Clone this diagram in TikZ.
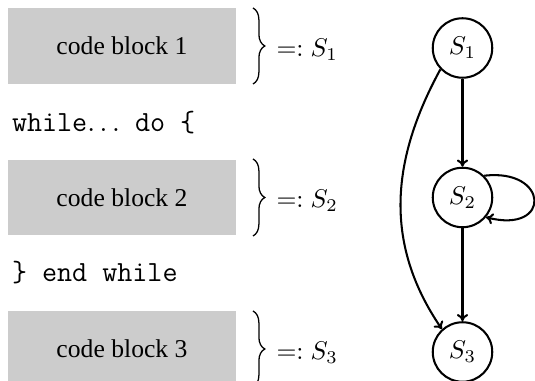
\documentclass[tikz,border=0pt]{standalone}
\usepackage[no-math]{fontspec}
\setmainfont{Liberation Serif}
\usetikzlibrary{decorations.pathreplacing,arrows.meta}

\begin{document}
\begin{tikzpicture}[x=0.39pt,y=-0.39pt,
  codebox/.style={fill=black!20, minimum width=88.9pt, minimum height=29.6pt, inner sep=0pt},
  codeline/.style={anchor=base west, inner sep=0pt, font=\fontsize{11.4}{13}\ttfamily},
  bracelabel/.style={anchor=base west, inner sep=0pt},
  curly/.style={decorate, decoration={brace, amplitude=4.6pt}, line width=0.5pt},
  state/.style={circle, draw, thick, minimum size=23.2pt, inner sep=0pt},
  arr/.style={-{To[length=2.8pt,width=4.4pt]}, thick}]

  % page frame
  \clip (0,0) rectangle (535,381);

  % source code column
  \node[codebox] (b1) at (122,46) {code block 1};
  \node[codeline] (w1) at (11.5,131.5) {while$\ldots$ do \{};
  \node[codebox] (b2) at (122,197.5) {code block 2};
  \node[codeline] (w2) at (11.5,281.5) {\} end while};
  \node[codebox] (b3) at (122,349) {code block 3};

  % braces naming the blocks
  \coordinate (t1) at (253,8);   \coordinate (u1) at (253,84);
  \coordinate (t2) at (253,159); \coordinate (u2) at (253,236);
  \coordinate (t3) at (253,311); \coordinate (u3) at (253,387);
  \draw[curly] (t1) -- (u1);
  \draw[curly] (t2) -- (u2);
  \draw[curly] (t3) -- (u3);
  \node[bracelabel] (n1) at (276,56.5) {$=: S_1$};
  \node[bracelabel] (n2) at (276,208) {$=: S_2$};
  \node[bracelabel] (n3) at (276,359.5) {$=: S_3$};

  % control flow graph
  \node[state] (S1) at (462.5,48) {$S_1$};
  \node[state] (S2) at (462.5,197.5) {$S_2$};
  \node[state] (S3) at (462.5,352) {$S_3$};

  \draw[arr] (S1) -- (S2);
  \draw[arr] (S2) -- (S3);
  \draw[arr] (S1.224) .. controls (392,158) and (382.5,242) .. (S3.132);
  \draw[arr] (S2.45) .. controls (549,168) and (552,234) .. (S2.-40);
\end{tikzpicture}
\end{document}
